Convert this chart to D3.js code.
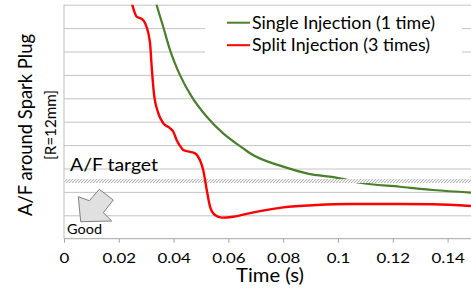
<!DOCTYPE html>
<html>
<head>
<meta charset="utf-8">
<script src="https://cdn.jsdelivr.net/npm/d3@7"></script>
<style>
  body { margin: 0; background: #fff; }
  svg { display: block; font-family: Lato, "Open Sans", sans-serif; }
</style>
</head>
<body>
<div id="chart"></div>
<script>
// time (s) and A/F in grid units (axis has no numbers, 10 grid steps)
var singleTime = [0.0325, 0.0338, 0.0362, 0.0387, 0.0423, 0.0466, 0.0521, 0.0581, 0.0654, 0.0679,
                  0.0800, 0.0886, 0.1007, 0.1080, 0.1226, 0.1347, 0.1500];
var singleAF   = [10.6, 10.0, 9.06, 8.06, 7.00, 6.07, 5.21, 4.50, 3.86, 3.65,
                  3.08, 2.79, 2.58, 2.39, 2.22, 2.08, 1.96];

var splitTime = [0.0240, 0.0249, 0.0265, 0.0284, 0.0296, 0.0314, 0.0320, 0.0328, 0.0344, 0.0362,
                 0.0387, 0.0399, 0.0411, 0.0430, 0.0435, 0.0478, 0.0496, 0.0508, 0.0521, 0.0533,
                 0.0551, 0.0576, 0.0618, 0.0679, 0.0715, 0.0800, 0.0922, 0.1044, 0.1226, 0.1347, 0.1500];
var splitAF   = [10.4, 10.0, 9.49, 9.39, 9.21, 8.36, 7.35, 6.23, 5.37, 4.94,
                 4.72, 4.57, 4.22, 3.86, 3.79, 3.65, 3.36, 2.94, 2.08, 1.37,
                 1.01, 0.90, 0.94, 1.09, 1.18, 1.34, 1.44, 1.48, 1.48, 1.47, 1.39];

var targetBand = [2.38, 2.55];
var xTicks = [0, 0.02, 0.04, 0.06, 0.08, 0.1, 0.12, 0.14];
var seriesNames = ["Single Injection (1 time)", "Split Injection (3 times)"];
var seriesColors = ["#4a7f2c", "#ff0000"];

var W = 471, H = 288;
var mLeft = 64, mTop = 4.7, mBottom = 238.7, mRight = 475;

var svg = d3.select("#chart").append("svg")
    .attr("width", W)
    .attr("height", H);

var x = d3.scaleLinear().domain([0, 0.15]).range([mLeft, mRight]);
var y = d3.scaleLinear().domain([0, 10]).range([mBottom, mTop]);

// stretch text to the width seen in the picture
function fit(sel, w) {
    sel.attr("textLength", w).attr("lengthAdjust", "spacingAndGlyphs");
}

var defs = svg.append("defs");
defs.append("clipPath").attr("id", "plotclip")
    .append("rect")
    .attr("x", mLeft).attr("y", mTop)
    .attr("width", mRight - mLeft).attr("height", mBottom - mTop);

var pat = defs.append("pattern")
    .attr("id", "hatch")
    .attr("patternUnits", "userSpaceOnUse")
    .attr("width", 3).attr("height", 3);
pat.append("rect").attr("width", 3).attr("height", 3).attr("fill", "#f0f0f0");
pat.append("path").attr("d", "M0,3 L3,0 M-1,1 L1,-1 M2,4 L4,2")
    .attr("stroke", "#a8a8a8").attr("stroke-width", 0.8);

// gridlines
svg.append("g")
    .attr("class", "grid")
    .attr("transform", "translate(" + mLeft + ",0)")
    .call(d3.axisLeft(y).tickValues(d3.range(1, 11)).tickSize(-(mRight - mLeft)).tickFormat(""))
    .call(function(g){ g.select(".domain").remove(); })
    .selectAll("line")
    .attr("stroke", "#c4c4c4");

// left axis line
svg.append("line")
    .attr("x1", mLeft).attr("x2", mLeft)
    .attr("y1", mTop).attr("y2", mBottom)
    .attr("stroke", "#bdbdbd");

// x axis
var xAxis = svg.append("g")
    .attr("transform", "translate(0," + mBottom + ")")
    .call(d3.axisBottom(x).tickValues(xTicks).tickSize(4).tickPadding(11)
        .tickFormat(function(d){ return String(+d.toFixed(2)); }));
xAxis.select(".domain").attr("stroke", "#a6a6a6").attr("d", "M" + mLeft + ",0H" + mRight);
xAxis.selectAll("line").attr("stroke", "#a6a6a6");
xAxis.selectAll("text")
    .attr("fill", "#000")
    .attr("transform", "scale(1.32,1)")
    .style("font-family", "Lato, sans-serif")
    .style("font-size", "12.8px");

var line = d3.line()
    .x(function(d){ return x(d[0]); })
    .y(function(d){ return y(d[1]); })
    .curve(d3.curveMonotoneX);

var plot = svg.append("g").attr("clip-path", "url(#plotclip)");

plot.append("path")
    .datum(d3.zip(singleTime, singleAF))
    .attr("d", line)
    .attr("fill", "none")
    .attr("stroke", seriesColors[0])
    .attr("stroke-width", 2.2);

// A/F target band
plot.append("rect")
    .attr("x", mLeft).attr("width", mRight - mLeft)
    .attr("y", y(targetBand[1]))
    .attr("height", y(targetBand[0]) - y(targetBand[1]))
    .attr("fill", "url(#hatch)");

plot.append("path")
    .datum(d3.zip(splitTime, splitAF))
    .attr("d", line)
    .attr("fill", "none")
    .attr("stroke", seriesColors[1])
    .attr("stroke-width", 2.4);

// legend
svg.append("rect")
    .attr("x", 205).attr("y", 6)
    .attr("width", 257).attr("height", 56)
    .attr("fill", "#fff");
var leg = svg.selectAll(".leg")
    .data(seriesNames)
    .join("g")
    .attr("class", "leg")
    .attr("transform", function(d, i){ return "translate(227," + (22.7 + i * 22.5) + ")"; });
leg.append("line")
    .attr("x1", 0).attr("x2", 23)
    .attr("stroke", function(d, i){ return seriesColors[i]; })
    .attr("stroke-width", 2);
leg.append("text")
    .attr("x", 25).attr("y", 6)
    .style("font-size", "16.3px")
    .text(function(d){ return d; })
    .each(function(d, i){ fit(d3.select(this), i === 0 ? 183 : 178); });

// A/F target label
svg.append("text")
    .attr("x", 70).attr("y", 171)
    .style("font-size", "17px")
    .text("A/F target")
    .call(fit, 88);

// Good arrow
svg.append("path")
    .attr("d", "M78.3,196.7 L80.7,221.7 L111.7,221 L103.3,212.7 L113.3,200 L99.3,189.3 L89.3,200.7 Z")
    .attr("fill", "#e0e0e0")
    .attr("stroke", "#808080")
    .attr("stroke-width", 1);
svg.append("text")
    .attr("x", 67).attr("y", 234)
    .style("font-size", "13px")
    .text("Good")
    .call(fit, 35);

// axis titles
svg.append("text")
    .attr("x", 236).attr("y", 282)
    .style("font-size", "18.5px")
    .text("Time (s)")
    .call(fit, 68);

svg.append("text")
    .attr("transform", "translate(32,125) rotate(-90)")
    .attr("text-anchor", "middle")
    .style("font-size", "19.6px")
    .text("A/F around Spark Plug")
    .call(fit, 182);
svg.append("text")
    .attr("transform", "translate(56,125) rotate(-90)")
    .attr("text-anchor", "middle")
    .style("font-size", "15.5px")
    .text("[R=12mm]")
    .call(fit, 70);
</script>
</body>
</html>
